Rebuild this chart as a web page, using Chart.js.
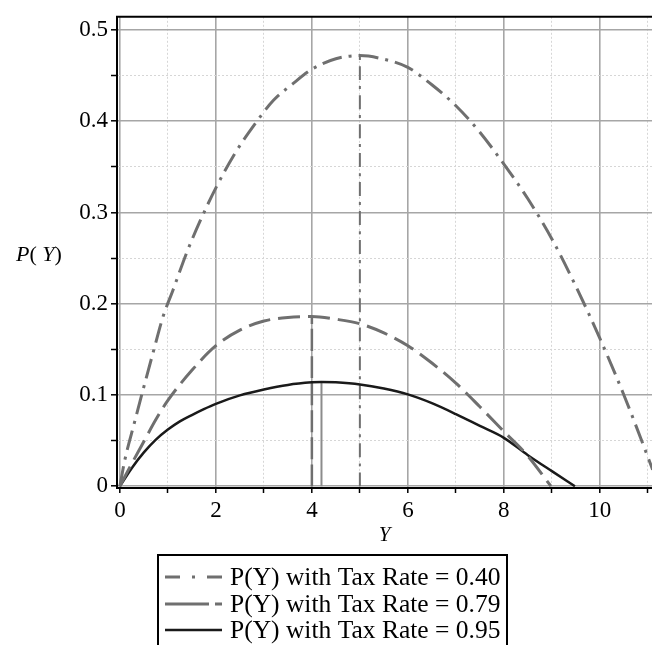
<!DOCTYPE html>
<html>
<head>
<meta charset="utf-8">
<script src="https://cdn.jsdelivr.net/npm/chart.js@4.4.0/dist/chart.umd.min.js"></script>
<style>
html, body { margin: 0; padding: 0; background: #fff; }
#wrap { width: 652px; height: 645px; position: relative; }
</style>
</head>
<body>
<div id="wrap"><canvas id="myChart"></canvas></div>
<script>
// values
const x40 = [0, 0.1, 0.3, 0.5, 0.7, 0.9, 1.1, 1.4, 1.7, 2, 2.4, 2.8, 3.2, 3.6, 4, 4.5, 5, 5.5, 6, 6.5, 7, 7.5, 8, 8.5, 9, 9.5, 10, 10.5, 11, 11.1];
const y40 = [0, 0.028, 0.069, 0.109, 0.148, 0.186, 0.214, 0.257, 0.294, 0.327, 0.365, 0.396, 0.423, 0.441, 0.457, 0.4685, 0.472, 0.468, 0.459, 0.440, 0.417, 0.388, 0.353, 0.315, 0.271, 0.219, 0.162, 0.100, 0.032, 0.018];

const x79 = [0, 0.25, 0.5, 0.75, 1, 1.5, 2, 2.5, 3, 3.5, 4, 4.5, 5, 5.5, 6, 6.5, 7, 7.5, 8, 8.5, 8.98];
const y79 = [0, 0.025, 0.049, 0.073, 0.094, 0.127, 0.154, 0.171, 0.181, 0.185, 0.186, 0.183, 0.178, 0.168, 0.154, 0.135, 0.113, 0.087, 0.060, 0.033, 0];

const x95 = [0, 0.25, 0.5, 0.75, 1, 1.25, 1.5, 1.75, 2, 2.5, 3, 3.5, 4, 4.2, 4.5, 5, 5.5, 6, 6.5, 7, 7.5, 8, 8.5, 9, 9.48];
const y95 = [0, 0.020, 0.037, 0.051, 0.062, 0.071, 0.078, 0.0845, 0.0903, 0.0995, 0.106, 0.111, 0.1138, 0.1143, 0.1138, 0.1115, 0.107, 0.1006, 0.091, 0.079, 0.066, 0.053, 0.034, 0.0165, 0];

// peak markers (x of the maximum and its height)
const peakX = [5, 4, 4.2];
const peakY = [0.472, 0.186, 0.1143];

const seriesLabels = ['P(Y) with Tax Rate = 0.40', 'P(Y) with Tax Rate = 0.79', 'P(Y) with Tax Rate = 0.95'];

const xTicks = [0, 2, 4, 6, 8, 10];
const yTicks = [0, 0.1, 0.2, 0.3, 0.4, 0.5];

const GRAY = '#6f6f6f';
const SERIF = '"Liberation Serif", "Times New Roman", serif';

function pts(xs, ys) {
    return xs.map((x, i) => ({x: x, y: ys[i]}));
}

const isMajorX = v => xTicks.some(t => Math.abs(t - v) < 1e-6);
const isMajorY = v => yTicks.some(t => Math.abs(t - v) < 1e-6);

// draws titles, top border and the boxed legend
const extras = {
    id: 'extras',
    afterDraw(chart) {
        const c = chart.ctx;
        const a = chart.chartArea;
        c.save();

        // top frame line
        c.strokeStyle = '#000';
        c.lineWidth = 2;
        c.beginPath();
        c.moveTo(a.left - 1, a.top);
        c.lineTo(a.right, a.top);
        c.stroke();

        // y title  P( Y)
        c.fillStyle = '#000';
        c.textBaseline = 'alphabetic';
        c.textAlign = 'left';
        let x = 16;
        const parts = [['P', true], ['( ', false], ['Y', true], [')', false]];
        parts.forEach(p => {
            c.font = (p[1] ? 'italic ' : '') + '22px ' + SERIF;
            c.fillText(p[0], x, 261);
            x += c.measureText(p[0]).width;
        });

        // x title
        c.font = 'italic 21px ' + SERIF;
        c.textAlign = 'center';
        c.fillText('Y', (a.left + a.right) / 2, 541);

        // legend box
        c.lineWidth = 2;
        c.strokeStyle = '#000';
        c.strokeRect(158, 555, 349, 110);

        const rows = [585, 612, 638];
        const legDash = [[15, 12, 3, 12], [44, 6, 7, 100], []];
        const legColor = [GRAY, GRAY, '#1a1a1a'];
        const legWidth = [3, 3, 2.5];
        rows.forEach((yb, i) => {
            c.strokeStyle = legColor[i];
            c.lineWidth = legWidth[i];
            c.setLineDash(legDash[i]);
            c.beginPath();
            c.moveTo(165, yb - 8);
            c.lineTo(222, yb - 8);
            c.stroke();
            c.setLineDash([]);
            c.font = '25.5px ' + SERIF;
            c.textAlign = 'left';
            c.fillStyle = '#000';
            c.fillText(seriesLabels[i], 230, yb);
        });
        c.restore();
    }
};

const ctx = document.getElementById('myChart').getContext('2d');
const myChart = new Chart(ctx, {
    type: 'line',
    data: {
        datasets: [{
            label: seriesLabels[0],
            data: pts(x40, y40),
            borderColor: GRAY,
            borderWidth: 3,
            borderDash: [20, 7, 3, 7]
        }, {
            label: seriesLabels[1],
            data: pts(x79, y79),
            borderColor: GRAY,
            borderWidth: 3,
            borderDash: [22, 8]
        }, {
            label: seriesLabels[2],
            data: pts(x95, y95),
            borderColor: '#1a1a1a',
            borderWidth: 2.5
        }, {
            label: 'peak 0.40',
            data: [{x: peakX[0], y: 0}, {x: peakX[0], y: peakY[0]}],
            borderColor: GRAY,
            borderWidth: 2,
            borderDash: [14, 6, 3, 6]
        }, {
            label: 'peak 0.79',
            data: [{x: peakX[1], y: 0}, {x: peakX[1], y: peakY[1]}],
            borderColor: GRAY,
            borderWidth: 2.5,
            borderDash: [22, 5]
        }, {
            label: 'peak 0.95',
            data: [{x: peakX[2], y: 0}, {x: peakX[2], y: peakY[2]}],
            borderColor: '#8c8c8c',
            borderWidth: 2
        }]
    },
    options: {
        responsive: true,
        maintainAspectRatio: false,
        animation: false,
        elements: { point: { radius: 0 }, line: { cubicInterpolationMode: 'monotone' } },
        layout: { padding: { top: 10, right: 0, bottom: 117, left: 0 } },
        plugins: {
            legend: { display: false },
            tooltip: { enabled: false }
        },
        scales: {
            x: {
                type: 'linear',
                min: -0.06,
                max: 11.086,
                afterFit: s => { s.height = 40; },
                ticks: {
                    stepSize: 1,
                    includeBounds: false,
                    autoSkip: false,
                    maxRotation: 0,
                    padding: 4,
                    color: '#000',
                    font: { family: SERIF, size: 23 },
                    callback: v => isMajorX(v) ? String(v) : ''
                },
                grid: {
                    color: c => c.tick && isMajorX(c.tick.value) ? '#a6a6a6' : '#d6d6d6',
                    lineWidth: c => c.tick && isMajorX(c.tick.value) ? 1.6 : 1,
                    tickColor: '#000',
                    tickLength: 5,
                    tickWidth: 1.5
                },
                border: {
                    color: '#000',
                    width: 2,
                    dash: c => c.tick && !isMajorX(c.tick.value) ? [2, 2] : []
                }
            },
            y: {
                type: 'linear',
                min: -0.002,
                max: 0.5145,
                afterFit: s => { s.width = 117; },
                ticks: {
                    stepSize: 0.05,
                    includeBounds: false,
                    autoSkip: false,
                    padding: 3,
                    color: '#000',
                    font: { family: SERIF, size: 23 },
                    callback: v => isMajorY(v) ? String(Math.round(v * 10) / 10) : ''
                },
                grid: {
                    color: c => c.tick && isMajorY(c.tick.value) ? '#a6a6a6' : '#d6d6d6',
                    lineWidth: c => c.tick && isMajorY(c.tick.value) ? 1.6 : 1,
                    tickColor: '#000',
                    tickLength: 6,
                    tickWidth: 1.5
                },
                border: {
                    color: '#000',
                    width: 2,
                    dash: c => c.tick && !isMajorY(c.tick.value) ? [2, 2] : []
                }
            }
        }
    },
    plugins: [extras]
});
</script>
</body>
</html>
